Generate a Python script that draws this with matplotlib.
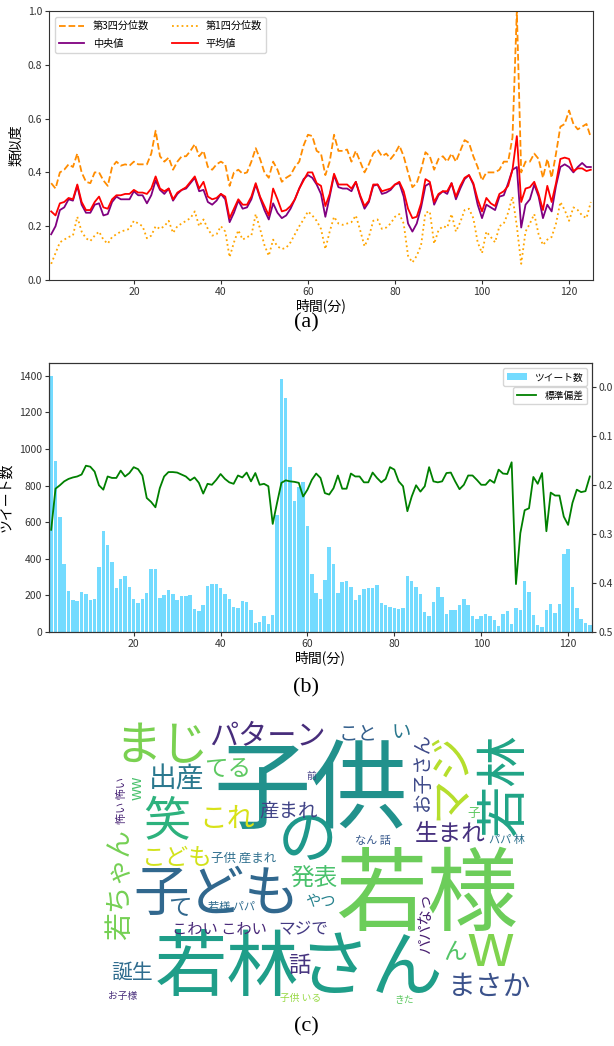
import matplotlib
matplotlib.use("Agg")
import matplotlib.pyplot as plt
import numpy as np

plt.rcParams['font.family'] = ['Noto Sans CJK JP', 'DejaVu Sans']

minutes = list(range(1, 126))

q3 = [0.36,0.34,0.40,0.41,0.43,0.42,0.47,0.40,0.365,0.36,
      0.40,0.40,0.37,0.35,0.42,0.44,0.425,0.43,0.425,0.44,
      0.43,0.43,0.43,0.47,0.555,0.46,0.44,0.455,0.41,0.44,
      0.46,0.46,0.48,0.505,0.46,0.48,0.42,0.41,0.43,0.44,
      0.43,0.35,0.40,0.41,0.395,0.40,0.44,0.49,0.45,0.40,
      0.38,0.44,0.41,0.365,0.38,0.39,0.42,0.44,0.50,0.54,
      0.535,0.48,0.47,0.39,0.44,0.54,0.48,0.48,0.485,0.44,
      0.48,0.44,0.40,0.43,0.47,0.485,0.46,0.47,0.45,0.47,
      0.50,0.46,0.40,0.345,0.36,0.41,0.475,0.46,0.41,0.45,
      0.46,0.44,0.47,0.44,0.48,0.52,0.51,0.46,0.42,0.37,
      0.40,0.40,0.40,0.41,0.44,0.44,0.53,1.00,0.40,0.44,
      0.44,0.47,0.45,0.38,0.45,0.38,0.47,0.57,0.58,0.63,
      0.58,0.56,0.57,0.58,0.53]

median = [0.17,0.20,0.26,0.27,0.30,0.295,0.35,0.28,0.25,0.25,
          0.28,0.285,0.24,0.245,0.29,0.31,0.30,0.30,0.30,0.33,
          0.315,0.315,0.285,0.315,0.37,0.335,0.32,0.34,0.295,0.32,
          0.335,0.34,0.36,0.38,0.33,0.335,0.29,0.28,0.295,0.32,
          0.30,0.215,0.25,0.295,0.265,0.27,0.30,0.355,0.305,0.26,
          0.225,0.285,0.25,0.23,0.24,0.265,0.30,0.34,0.375,0.39,
          0.38,0.355,0.32,0.235,0.31,0.39,0.345,0.34,0.34,0.33,
          0.365,0.31,0.265,0.29,0.35,0.355,0.32,0.325,0.335,0.355,
          0.36,0.31,0.21,0.18,0.21,0.27,0.35,0.36,0.28,0.315,
          0.33,0.32,0.36,0.30,0.34,0.375,0.39,0.355,0.28,0.23,
          0.28,0.27,0.26,0.31,0.315,0.36,0.41,0.42,0.195,0.28,
          0.30,0.355,0.31,0.23,0.28,0.255,0.35,0.42,0.43,0.42,
          0.40,0.42,0.435,0.42,0.42]

mean = [0.255,0.24,0.285,0.29,0.305,0.30,0.355,0.29,0.26,0.26,
        0.29,0.31,0.27,0.265,0.30,0.315,0.315,0.32,0.32,0.335,
        0.325,0.325,0.32,0.34,0.385,0.34,0.33,0.34,0.30,0.325,
        0.335,0.345,0.365,0.385,0.34,0.365,0.31,0.30,0.305,0.32,
        0.31,0.23,0.265,0.30,0.28,0.28,0.31,0.36,0.31,0.275,
        0.24,0.34,0.30,0.255,0.26,0.275,0.30,0.34,0.37,0.40,
        0.40,0.36,0.35,0.275,0.32,0.395,0.355,0.355,0.355,0.34,
        0.365,0.315,0.275,0.295,0.355,0.355,0.33,0.335,0.34,0.355,
        0.365,0.33,0.265,0.23,0.235,0.285,0.375,0.365,0.29,0.32,
        0.33,0.33,0.36,0.31,0.35,0.38,0.39,0.36,0.30,0.255,
        0.305,0.285,0.275,0.32,0.33,0.35,0.41,0.535,0.29,0.34,
        0.345,0.365,0.32,0.26,0.35,0.29,0.36,0.45,0.455,0.45,
        0.405,0.415,0.415,0.405,0.41]

q1 = [0.06,0.10,0.14,0.15,0.16,0.165,0.235,0.18,0.155,0.145,
      0.165,0.18,0.15,0.135,0.16,0.17,0.18,0.185,0.19,0.22,
      0.21,0.20,0.155,0.165,0.20,0.19,0.20,0.22,0.175,0.20,
      0.21,0.22,0.23,0.255,0.20,0.225,0.19,0.165,0.17,0.20,
      0.18,0.085,0.14,0.185,0.15,0.16,0.165,0.245,0.19,0.13,
      0.09,0.15,0.125,0.115,0.12,0.14,0.17,0.20,0.225,0.255,
      0.24,0.22,0.19,0.115,0.18,0.235,0.21,0.205,0.21,0.215,
      0.24,0.185,0.125,0.16,0.22,0.225,0.19,0.195,0.21,0.235,
      0.245,0.21,0.09,0.065,0.09,0.13,0.25,0.255,0.135,0.185,
      0.20,0.195,0.245,0.18,0.215,0.26,0.265,0.23,0.14,0.10,
      0.18,0.16,0.14,0.20,0.21,0.25,0.31,0.20,0.06,0.18,
      0.21,0.245,0.17,0.13,0.15,0.16,0.21,0.29,0.26,0.22,
      0.27,0.26,0.24,0.23,0.29]

tweets = [1400,935,630,370,225,175,170,220,210,175,
          180,355,550,475,380,240,290,305,245,180,
          160,180,215,345,345,185,200,230,210,175,
          195,195,200,125,115,150,250,265,265,240,
          210,180,135,130,170,165,120,50,55,90,
          45,95,640,1380,1280,900,715,790,820,580,
          315,215,180,285,465,370,215,275,280,245,
          175,200,235,240,240,255,160,145,135,130,
          125,130,305,280,245,210,110,90,165,245,
          190,100,120,120,150,180,145,90,70,90,
          100,90,65,35,100,115,45,130,120,280,
          220,95,40,30,120,155,105,155,425,455,
          245,130,70,50,40]

std = [0.291,0.207,0.200,0.192,0.187,0.184,0.182,0.178,0.160,0.162,
       0.172,0.200,0.209,0.182,0.185,0.185,0.170,0.182,0.175,0.163,
       0.167,0.180,0.226,0.234,0.245,0.206,0.182,0.173,0.173,0.174,
       0.178,0.182,0.190,0.184,0.195,0.217,0.197,0.199,0.189,0.177,
       0.187,0.194,0.197,0.180,0.184,0.174,0.192,0.175,0.199,0.197,
       0.202,0.279,0.236,0.195,0.190,0.192,0.193,0.195,0.223,0.209,
       0.189,0.176,0.185,0.216,0.219,0.206,0.180,0.207,0.207,0.176,
       0.182,0.182,0.194,0.194,0.174,0.185,0.194,0.187,0.163,0.168,
       0.192,0.202,0.253,0.223,0.200,0.213,0.202,0.163,0.192,0.194,
       0.192,0.175,0.174,0.192,0.208,0.199,0.180,0.180,0.189,0.199,
       0.199,0.189,0.195,0.168,0.176,0.177,0.153,0.402,0.298,0.251,
       0.247,0.183,0.197,0.175,0.294,0.215,0.221,0.221,0.264,0.281,
       0.236,0.209,0.214,0.212,0.182]

# word cloud: words and their font sizes (pt)
wc_words = ["子供","若様","若林さん","子ども","まじ","パターン","マジ","若林","笑","の",
            "これ","出産","てる","こと","い","お子さん","前","ww","怖い 怖い","産まれ",
            "子","生まれ","なん 話","パパ 林","こども","子供 産まれ","発表","やつ","若様 パパ","こわい こわい",
            "マジで","パパなっ","ん","w","まさか","話","誕生","お子様","子供 いる","きた",
            "若ちゃん","て"]
wc_sizes = [70,66,52,40,34,21,32,37,34,43,
            20,20,17,14,14,14,7,11,8,14,
            9,17,8,8,17,9,17,11,8,11,
            12,11,17,43,20,16,15,7,7,7,
            20,17]
# layout (pixel centres in figure), rotations, colours
wc_x = [311,427,299,217,162,267,450,505,167,308,
        227,177,228,358,401,422,311,137,122,289,
        474,450,373,507,177,244,314,320,232,219,
        303,426,455,490,490,299,132,123,301,404,
        120,180]
wc_y = [793,898,970,895,747,737,775,785,823,842,
        819,779,769,734,733,772,776,788,800,812,
        814,835,841,840,858,858,879,902,907,929,
        930,923,953,950,987,965,973,996,998,1000,
        885,908]
wc_rot = [0,0,0,0,0,0,90,90,0,0,
          0,0,0,0,0,90,0,90,90,0,
          0,0,0,0,0,0,0,0,0,0,
          0,90,0,0,0,0,0,0,0,0,
          90,0]
wc_colors = ["#21918c","#6ccd5a","#1f9e89","#31688e","#7ad151","#472d7b","#b5de2b","#20a486","#2db27d","#1f988b",
             "#d8e219","#2a788e","#5ec962","#35608d","#2a788e","#3e4a89","#433e85","#4ac16d","#482475","#414487",
             "#5ec962","#46307e","#38598c","#2c718e","#d2e21b","#2e6f8e","#4ac16d","#26828e","#2f6b8e","#482878",
             "#443a83","#481f70","#54c568","#7fd34e","#3b528b","#46337f","#2f6c8e","#472c7a","#95d840","#5ec962",
             "#75d054","#31688e"]

W, H = 614, 1046
fig = plt.figure(figsize=(W/100, H/100), dpi=100)

# ---- word cloud layer
axc = fig.add_axes([0, 0, 1, 1])
axc.set_xlim(0, W)
axc.set_ylim(H, 0)
axc.axis('off')
for w, s, x, y, r, c in zip(wc_words, wc_sizes, wc_x, wc_y, wc_rot, wc_colors):
    axc.text(x, y, w, fontsize=s, color=c, rotation=r, ha='center', va='center',
             family=['Noto Sans CJK JP', 'DejaVu Sans'])

def frac(l, t, r, b):
    return [l/W, 1-b/H, (r-l)/W, (b-t)/H]

tick_fs = 7.5
label_fs = 10
spine_c = '#333333'
tick_kw = dict(labelsize=tick_fs, colors='#333333', length=3, pad=2)

# ---- (a)
axa = fig.add_axes(frac(49, 11, 593, 280))
la3, = axa.plot(minutes, q3, color='darkorange', ls='--', lw=1.3, label='第3四分位数')
lmed, = axa.plot(minutes, median, color='purple', lw=1.3, label='中央値')
la1, = axa.plot(minutes, q1, color='orange', ls=':', lw=1.3, label='第1四分位数')
lmean, = axa.plot(minutes, mean, color='red', lw=1.3, label='平均値')
axa.set_xlim(0.5, 125.5)
axa.set_ylim(0, 1.0)
axa.set_xticks([20, 40, 60, 80, 100, 120])
axa.set_yticks([0.0, 0.2, 0.4, 0.6, 0.8, 1.0])
axa.tick_params(**tick_kw)
axa.set_xlabel('時間(分)', fontsize=label_fs, labelpad=1)
axa.set_ylabel('類似度', fontsize=label_fs, labelpad=3)
axa.legend(handles=[la3, lmed, la1, lmean], ncol=2, loc='upper left', fontsize=7.3,
           columnspacing=2.3, handlelength=2.5, labelspacing=0.75, borderaxespad=0.6)
for s in axa.spines.values():
    s.set_color(spine_c)

# ---- (b)
axb = fig.add_axes(frac(49, 363, 592, 632))
bars = axb.bar(minutes, tweets, width=0.8, color='deepskyblue', alpha=0.55, label='ツイート数')
axb.set_xlim(0.5, 125.5)
axb.set_ylim(0, 1470)
axb.set_xticks([20, 40, 60, 80, 100, 120])
axb.set_yticks([0, 200, 400, 600, 800, 1000, 1200, 1400])
axb.tick_params(**tick_kw)
axb.set_xlabel('時間(分)', fontsize=label_fs, labelpad=1)
axb.set_ylabel('ツイート数', fontsize=label_fs, labelpad=4)
axb.legend(loc='upper right', fontsize=7)
axb2 = axb.twinx()
axb2.plot(minutes, std, color='green', lw=1.3, label='標準偏差')
axb2.set_ylim(0.5, -0.05)
axb2.set_yticks([0.0, 0.1, 0.2, 0.3, 0.4, 0.5])
axb2.tick_params(**tick_kw)
axb2.legend(loc='upper right', bbox_to_anchor=(1.0, 0.93), fontsize=7)
for a in (axb, axb2):
    for s in a.spines.values():
        s.set_color(spine_c)

# ---- panel captions
for lab, yy in (('(a)', 323), ('(b)', 688), ('(c)', 1027)):
    fig.text(306/W, 1-yy/H, lab, ha='center', va='center', fontsize=16,
             family='Liberation Serif')

fig.savefig('out.png', dpi=100)
